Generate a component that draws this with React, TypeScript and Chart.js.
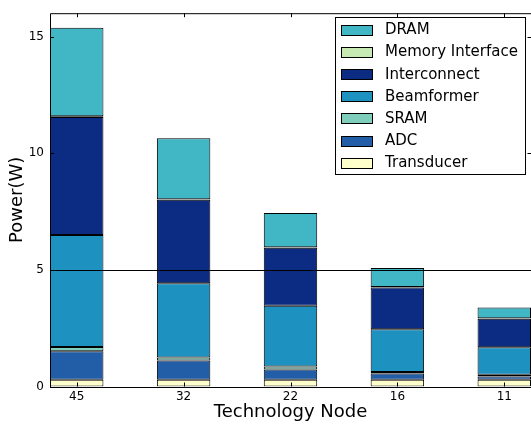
import React, { useEffect, useRef } from "react";
import { Chart, registerables } from "chart.js";
Chart.register(...registerables);

const nodes = ["45", "32", "22", "16", "11"];
const transducer = [0.29, 0.29, 0.29, 0.29, 0.29];
const adc = [1.22, 0.82, 0.44, 0.27, 0.14];
const sram = [0.18, 0.13, 0.13, 0.06, 0.07];
const beamformer = [4.8, 3.19, 2.6, 1.83, 1.18];
const interconnect = [5.06, 3.57, 2.49, 1.79, 1.22];
const memoryInterface = [0.03, 0.03, 0.02, 0.02, 0.02];
const dram = [3.8, 2.61, 1.47, 0.82, 0.47];
const yTicks = [0, 5, 10, 15];
const refLine = 5;

const series = [
  { label: "Transducer", data: transducer, color: "#ffffcc" },
  { label: "ADC", data: adc, color: "#225ea8" },
  { label: "SRAM", data: sram, color: "#7fcdbb" },
  { label: "Beamformer", data: beamformer, color: "#1d91c0" },
  { label: "Interconnect", data: interconnect, color: "#0c2c84" },
  { label: "Memory Interface", data: memoryInterface, color: "#c7e9b4" },
  { label: "DRAM", data: dram, color: "#41b6c4" },
];

const FONT = "'DejaVu Sans', sans-serif";

const framePlugin = {
  id: "frame",
  afterDatasetsDraw(chart: any) {
    const { ctx, chartArea } = chart;
    const { left, top, bottom } = chartArea;
    const right = 531.5;
    const xs = chart.scales.x;
    const ys = chart.scales.y;
    ctx.save();
    const yl = Math.round(ys.getPixelForValue(refLine)) + 0.5;
    ctx.strokeStyle = "#000";
    ctx.lineWidth = 1;
    ctx.beginPath();
    ctx.moveTo(left, yl);
    ctx.lineTo(right, yl);
    ctx.stroke();
    ctx.beginPath();
    ctx.moveTo(right, top + 0.5);
    ctx.lineTo(left + 0.5, top + 0.5);
    ctx.lineTo(left + 0.5, Math.round(bottom) + 0.5);
    ctx.lineTo(right, Math.round(bottom) + 0.5);
    ctx.stroke();
    const tl = 4;
    ctx.beginPath();
    for (const v of yTicks) {
      const y = Math.round(ys.getPixelForValue(v)) + 0.5;
      ctx.moveTo(left, y);
      ctx.lineTo(left + tl, y);
      ctx.moveTo(right, y);
      ctx.lineTo(right - tl, y);
    }
    for (let i = 0; i < nodes.length; i++) {
      const x = Math.round(xs.getPixelForValue(i)) + 0.5;
      ctx.moveTo(x, bottom);
      ctx.lineTo(x, bottom - tl);
      ctx.moveTo(x, top);
      ctx.lineTo(x, top + tl);
    }
    ctx.stroke();
    ctx.restore();
  },
  afterDraw(chart: any) {
    const { ctx } = chart;
    ctx.save();
    const bx = 335.5, by = 17.5, bw = 190, bh = 157;
    ctx.fillStyle = "#fff";
    ctx.fillRect(bx, by, bw, bh);
    ctx.strokeStyle = "#000";
    ctx.lineWidth = 1;
    ctx.strokeRect(bx, by, bw, bh);
    const items = [...series].reverse();
    ctx.font = "15px " + FONT;
    ctx.textBaseline = "middle";
    items.forEach((s, i) => {
      const cy = 30 + i * 22.1;
      ctx.fillStyle = s.color;
      ctx.fillRect(341, Math.round(cy - 5), 31, 10);
      ctx.strokeStyle = "#000";
      ctx.strokeRect(341.5, Math.round(cy - 5) + 0.5, 31, 10);
      ctx.fillStyle = "#000";
      ctx.fillText(s.label, 385, cy + 0.5);
    });
    ctx.restore();
  },
};

export default function App() {
  const ref = useRef<HTMLCanvasElement>(null);
  useEffect(() => {
    const canvas = ref.current!;
    const chart = new Chart(canvas, {
      type: "bar",
      data: {
        datasets: series.map((s) => ({
          label: s.label,
          data: s.data.map((v, i) => ({ x: i, y: v })),
          backgroundColor: s.color,
          borderColor: "#000",
          borderWidth: 1,
          borderSkipped: false,
          barPercentage: 0.5,
          categoryPercentage: 1,
        })),
      },
      options: {
        animation: false,
        responsive: false,
        devicePixelRatio: 1,
        layout: { padding: { top: 10, right: 0, left: 0, bottom: 0 } },
        plugins: { legend: { display: false }, tooltip: { enabled: false } },
        scales: {
          x: {
            type: "linear",
            offset: false,
            stacked: true,
            min: -0.25,
            max: 4.25,
            grid: { display: false, drawTicks: false, offset: false },
            border: { display: false },
            afterBuildTicks: (scale: any) => {
              scale.ticks = nodes.map((_, i) => ({ value: i }));
            },
            afterFit: (scale: any) => {
              scale.height = 37.5;
              scale.paddingLeft = 0;
              scale.paddingRight = 0;
            },
            ticks: {
              autoSkip: false,
              maxRotation: 0,
              padding: 3,
              color: "#000",
              font: { family: FONT, size: 12 },
              callback: (v: any) => nodes[Math.round(v)] ?? "",
            },
            title: {
              display: true,
              text: "Technology Node",
              color: "#000",
              font: { family: FONT, size: 18 },
              padding: { top: 0, bottom: 1 },
            },
          },
          y: {
            stacked: true,
            min: 0,
            max: 16,
            grid: { display: false, drawTicks: false },
            border: { display: false },
            afterBuildTicks: (scale: any) => {
              scale.ticks = yTicks.map((v) => ({ value: v }));
            },
            afterFit: (scale: any) => {
              scale.width = 50;
            },
            ticks: {
              padding: 6,
              color: "#000",
              font: { family: FONT, size: 12 },
            },
            title: {
              display: true,
              text: "Power(W)",
              color: "#000",
              font: { family: FONT, size: 18 },
              padding: { top: 7, bottom: 0 },
            },
          },
        },
      },
      plugins: [framePlugin],
    } as any);
    return () => chart.destroy();
  }, []);
  return (
    <div style={{ position: "fixed", left: 0, top: 0, width: 531, height: 424, background: "#fff" }}>
      <canvas ref={ref} width={531} height={424} />
    </div>
  );
}
